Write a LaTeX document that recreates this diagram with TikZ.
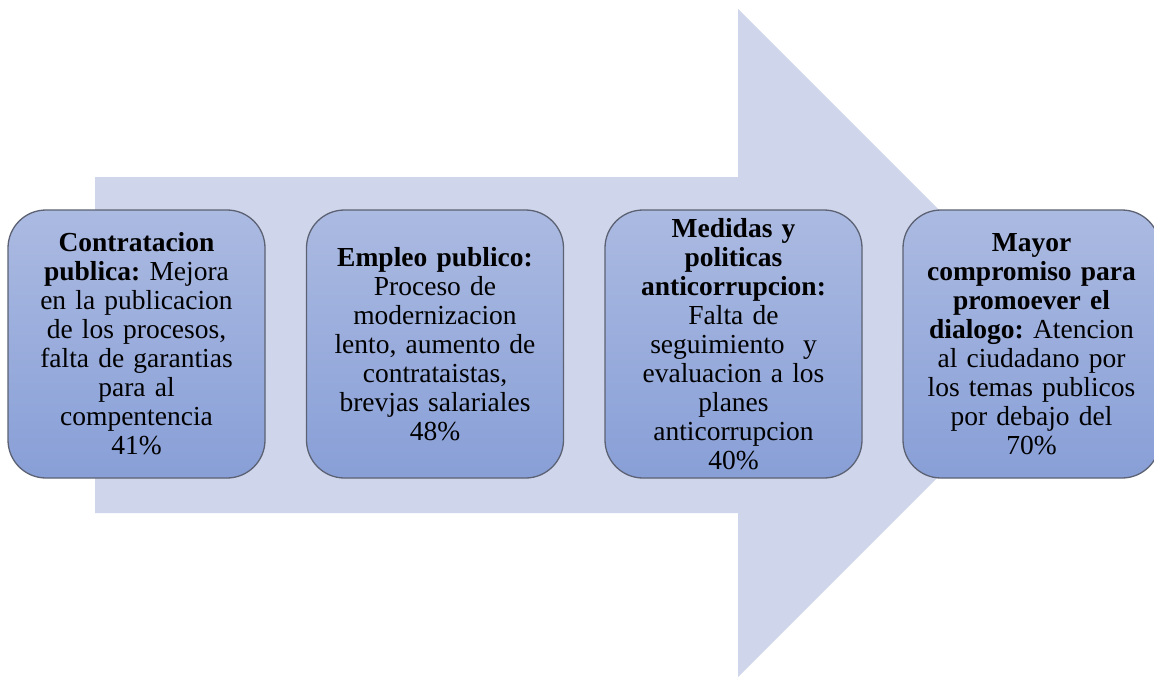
\documentclass[tikz,border=0pt]{standalone}
\usepackage{fontspec}
\setmainfont{Liberation Serif}
\frenchspacing
\definecolor{arrowfill}{HTML}{CFD5EA}
\definecolor{boxtop}{HTML}{ABBAE1}
\definecolor{boxbot}{HTML}{889FD7}
\definecolor{boxedge}{HTML}{5C6273}
\tikzset{
  stagebox/.style={rounded corners=38pt, draw=boxedge, line width=1.3pt,
    top color=boxtop, bottom color=boxbot,
    minimum width=257pt, minimum height=268pt, inner sep=0pt,
    align=center, text width=252pt,
    font=\fontsize{27.5}{29}\selectfont},
  bigarrow/.style={fill=arrowfill, draw=none}
}
\begin{document}
\begin{tikzpicture}[x=1pt,y=-1pt]
\useasboundingbox (0,0) rectangle (1154,678);
\clip (0,0) rectangle (1154,678);
\fill[white] (0,0) rectangle (1154,678);
\path[bigarrow] (95,177) -- (738,177) -- (738,9) -- (1072,343) -- (738,677) -- (738,513) -- (95,513) -- cycle;
\node[stagebox] (b1) at (136.5,344) {\textbf{Contratacion}\\\textbf{publica:} Mejora\\en la publicacion\\de los procesos,\\falta de garantias\\para al\\compentencia\\41\%};
\node[stagebox] (b2) at (435,344) {\textbf{Empleo publico:}\\Proceso de\\modernizacion\\lento, aumento de\\contrataistas,\\brevjas salariales\\48\%};
\node[stagebox] (b3) at (733.5,344) {\textbf{Medidas y}\\\textbf{politicas}\\\textbf{anticorrupcion:}\\Falta de\\seguimiento\ \ y\\evaluacion a los\\planes\\anticorrupcion\\40\%};
\node[stagebox] (b4) at (1031.5,344) {\textbf{Mayor}\\\textbf{compromiso para}\\\textbf{promoever el}\\\textbf{dialogo:} Atencion\\al ciudadano por\\los temas publicos\\por debajo del\\70\%};
\end{tikzpicture}
\end{document}
